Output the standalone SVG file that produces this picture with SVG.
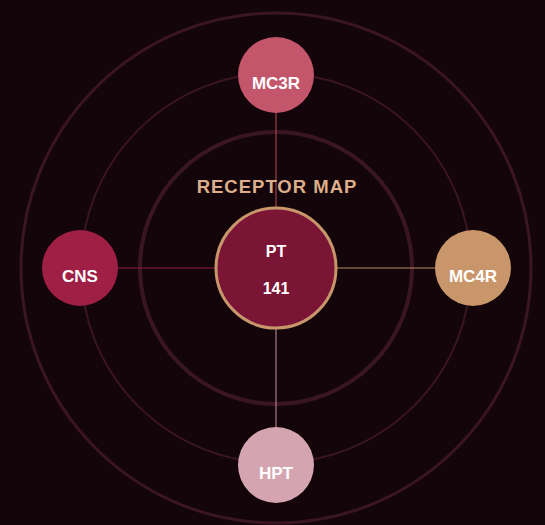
<svg xmlns="http://www.w3.org/2000/svg" width="545" height="525" viewBox="0 0 545 525">
<style>
.ring{fill:none;stroke:#3a1522}
.spoke{stroke-width:2;stroke-opacity:0.45}
.lbl{font-family:"Liberation Sans",Arial,sans-serif;font-weight:bold;fill:#ffffff;text-anchor:middle;font-size:17px}
.title{font-family:"Liberation Sans",Arial,sans-serif;font-weight:bold;fill:#dcae8a;text-anchor:middle;font-size:18.5px;letter-spacing:1px}
</style>
<rect width="545" height="525" fill="#14050a"/>
<g id="rings">
<circle class="ring" cx="276" cy="268" r="255" stroke-width="3" stroke="#301119"/>
<circle class="ring" cx="276" cy="268" r="195" stroke-width="2"/>
<circle class="ring" cx="276" cy="268" r="136" stroke-width="4" stroke="#3e1626"/>
</g>
<g id="connectors">
<line class="spoke" x1="276" y1="268" x2="276" y2="75" stroke="#c4566b"/>
<line class="spoke" x1="276" y1="268" x2="80" y2="268" stroke="#a01f45"/>
<line class="spoke" x1="276" y1="268" x2="473" y2="268" stroke="#c8966a"/>
<line class="spoke" x1="276" y1="268" x2="276" y2="465" stroke="#d4a5b0"/>
</g>
<text class="title" x="277" y="193">RECEPTOR MAP</text>
<g id="PT">
<circle cx="276" cy="268" r="60" fill="#7a1535" stroke="#c8966a" stroke-width="3"/>
<text class="lbl" x="276" y="257" style="font-size:16px">PT</text>
<text class="lbl" x="276" y="294" style="font-size:16px">141</text>
</g>
<g id="MC3R">
<circle cx="276" cy="75" r="38" fill="#c4566b"/>
<text class="lbl" x="276" y="89">MC3R</text>
</g>
<g id="CNS">
<circle cx="80" cy="268" r="38" fill="#a01f45"/>
<text class="lbl" x="80" y="282">CNS</text>
</g>
<g id="MC4R">
<circle cx="473" cy="268" r="38" fill="#c8966a"/>
<text class="lbl" x="473" y="282">MC4R</text>
</g>
<g id="HPT">
<circle cx="276" cy="465" r="38" fill="#d4a5b0"/>
<text class="lbl" x="276" y="479">HPT</text>
</g>
</svg>
